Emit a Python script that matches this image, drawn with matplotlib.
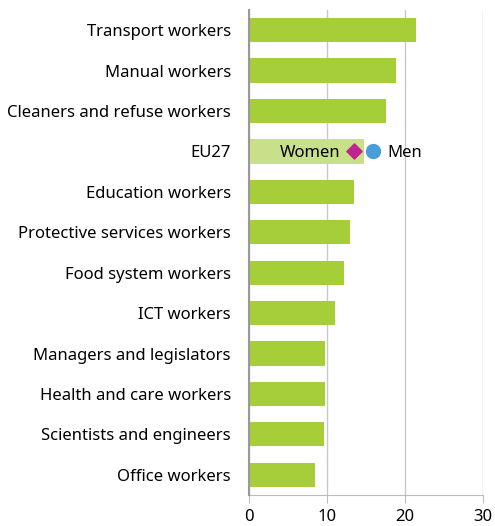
import matplotlib.pyplot as plt

# Data
categories = ["Transport workers", "Manual workers", "Cleaners and refuse workers", "EU27",
              "Education workers", "Protective services workers", "Food system workers",
              "ICT workers", "Managers and legislators", "Health and care workers",
              "Scientists and engineers", "Office workers"]
values = [21.4, 18.8, 17.6, 14.7, 13.5, 12.9, 12.2, 11.0, 9.7, 9.7, 9.6, 8.5]
eu_women = 13.5
eu_men = 15.9

GREEN = "#A6CE39"
LIGHT_GREEN = "#C9E08A"

plt.rcParams["font.family"] = ["Noto Sans", "DejaVu Sans"]

fig = plt.figure(figsize=(4.95, 5.26), dpi=100)
ax = fig.add_axes([0.503, 0.059, 0.473, 0.922])

colors = [LIGHT_GREEN if c == "EU27" else GREEN for c in categories]
y = list(range(len(categories)))
ax.barh(y, values, height=0.6, color=colors, zorder=2)

eu_idx = categories.index("EU27")
ax.scatter([eu_women], [eu_idx], marker="D", s=60, color="#C0248E", zorder=4)
ax.scatter([eu_men], [eu_idx], marker="o", s=100, color="#4A9DD9", zorder=4)
ax.text(eu_women - 1.8, eu_idx + 0.05, "Women", ha="right", va="center", fontsize=12, zorder=5)
ax.text(eu_men + 1.8, eu_idx + 0.05, "Men", ha="left", va="center", fontsize=12, zorder=5)

ax.set_xlim(0, 30)
ax.set_ylim(len(categories) - 0.5, -0.5)
ax.set_yticks(y)
ax.set_yticklabels(categories, fontsize=12)
ax.set_xticks([0, 10, 20, 30])
ax.tick_params(axis="x", labelsize=12, length=6, color="#BBBBBB", pad=4)
ax.tick_params(axis="y", length=0, pad=13)

ax.grid(axis="x", color="#C8C8C8", linewidth=1, zorder=0)
for s in ["top", "right"]:
    ax.spines[s].set_visible(False)
ax.spines["left"].set_color("#999999")
ax.spines["left"].set_linewidth(1.5)
ax.spines["left"].set_zorder(3)
ax.spines["bottom"].set_color("#BBBBBB")

fig.savefig("out.png", dpi=100)
